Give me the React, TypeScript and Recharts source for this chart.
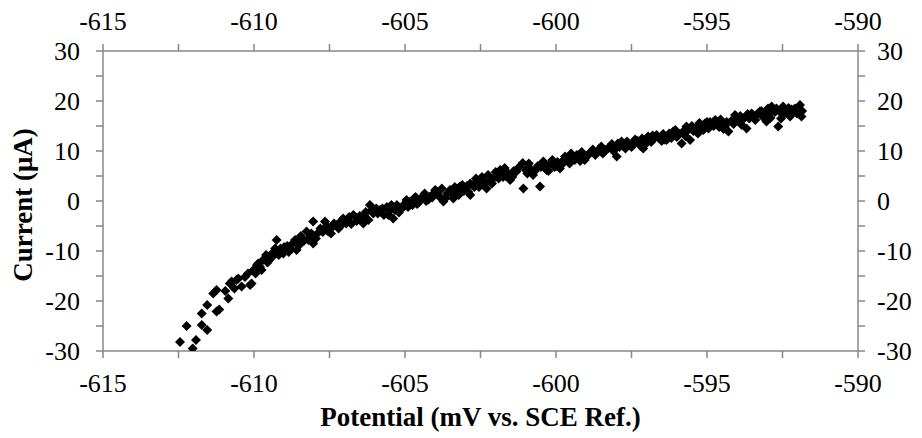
import { ScatterChart, Scatter, XAxis, YAxis } from 'recharts';

const potential = [
  -612.45, -612.23, -612.03, -611.92, -611.73, -611.55, -611.73, -611.55, -611.24, -611.15,
  -611.35, -611.24, -610.85, -610.8, -610.74, -610.58, -610.52, -610.41, -610.13, -610.08,
  -610.02, -609.9, -609.86, -609.75, -609.7, -609.64, -609.55, -609.45, -609.35, -609.25,
  -609.25, -609.12, -609.03, -608.9, -608.8, -608.64, -608.59, -608.45, -608.35, -608.26,
  -608.15, -608.04, -608.04, -607.9, -607.8, -607.65, -607.54, -607.4, -607.26, -607.15,
  -607.05, -606.95, -606.85, -606.71, -606.6, -606.5, -606.38, -606.3, -606.21, -606.16,
  -606.05, -605.95, -605.83, -605.7, -605.6, -605.5, -605.39, -605.27, -605.15, -605.0,
  -604.9, -604.83, -604.7, -604.6, -604.5, -604.4, -604.3, -604.17, -604.05, -603.95,
  -603.85, -603.73, -603.6, -603.51, -603.4, -603.3, -603.18, -603.05, -602.95, -602.84,
  -602.84, -602.7, -602.6, -602.52, -602.4, -602.3, -602.2, -602.07, -601.95, -601.85,
  -601.75, -601.65, -601.52, -601.4, -601.31, -601.1, -601.08, -600.95, -600.85, -600.76,
  -600.6, -600.53, -600.42, -600.31, -600.2, -600.05, -599.95, -599.87, -599.78, -599.7,
  -599.55, -599.45, -599.31, -599.2, -599.1, -598.99, -598.85, -598.7, -598.54, -598.45,
  -598.35, -598.21, -598.1, -597.99, -597.9, -597.83, -597.7, -597.6, -597.44, -597.3,
  -597.2, -597.11, -596.95, -596.85, -596.75, -596.67, -596.5, -596.34, -596.25, -596.12,
  -596.0, -595.84, -595.79, -595.68, -595.56, -595.45, -595.3, -595.2, -595.07, -594.95,
  -594.85, -594.73, -594.6, -594.5, -594.4, -594.29, -594.2, -594.07, -593.95, -593.85,
  -593.69, -593.6, -593.52, -593.4, -593.25, -593.15, -593.03, -592.95, -592.86, -592.75,
  -592.64, -592.55, -592.48, -592.35, -592.25, -592.15, -592.09, -591.92, -591.87, -591.85,
  -610.95, -610.65, -610.3, -610.2, -609.95, -609.8, -609.6, -609.5, -609.4, -609.3,
  -609.18, -609.0, -608.85, -608.72, -608.5, -608.4, -608.2, -608.1, -607.95, -607.72,
  -607.6, -607.45, -607.35, -607.2, -607.1, -606.9, -606.78, -606.65, -606.45, -606.35,
  -606.1, -605.9, -605.75, -605.55, -605.45, -605.33, -605.2, -605.05, -604.95, -604.75,
  -604.65, -604.55, -604.45, -604.35, -604.22, -604.1, -604.0, -603.9, -603.78, -603.65,
  -603.45, -603.35, -603.22, -603.1, -603.0, -602.9, -602.78, -602.65, -602.55, -602.45,
  -602.35, -602.25, -602.12, -602.0, -601.9, -601.8, -601.7, -601.58, -601.45, -601.22,
  -601.0, -600.9, -600.7, -600.5, -600.36, -600.25, -600.12, -599.99, -599.82, -599.62,
  -599.5, -599.38, -599.25, -599.15, -599.05, -598.92, -598.78, -598.62, -598.5, -598.4,
  -598.28, -598.15, -598.05, -597.95, -597.77, -597.65, -597.5, -597.38, -597.25, -597.15,
  -597.0, -596.9, -596.8, -596.6, -596.45, -596.4, -596.18, -596.05, -595.92, -595.72,
  -595.62, -595.5, -595.38, -595.25, -595.12, -595.0, -594.9, -594.78, -594.66, -594.55,
  -594.45, -594.35, -594.12, -594.0, -593.9, -593.78, -593.65, -593.45, -593.32, -593.2,
  -593.1, -592.98, -592.9, -592.8, -592.7, -592.6, -592.42, -592.3, -592.2, -592.02,
];

const current = [
  -28.2, -25.0, -29.5, -27.8, -24.8, -25.8, -22.5, -20.8, -22.1, -21.7,
  -18.5, -17.8, -19.5, -16.5, -16.1, -15.8, -15.5, -17.1, -16.8, -16.5,
  -13.8, -12.8, -12.5, -13.8, -11.8, -11.5, -12.3, -10.8, -10.2, -7.8,
  -10.1, -9.5, -10.5, -9.0, -9.6, -7.8, -9.8, -7.0, -8.0, -6.1,
  -7.2, -4.1, -8.5, -6.5, -5.5, -4.1, -6.1, -5.2, -4.8, -4.2,
  -3.5, -4.5, -3.2, -2.8, -4.0, -3.0, -4.5, -2.2, -3.8, -0.8,
  -2.5, -1.5, -1.8, -2.8, -1.2, -2.0, -3.5, -0.8, -1.5, -0.5,
  -1.2, -0.1, 0.5, -0.6, 0.2, 1.0, 0.0, 0.9, 1.5, 1.9,
  0.8, -0.1, 1.5, 2.2, 0.5, 2.0, 2.9, 2.0, 3.0, 3.5,
  1.2, 2.8, 3.8, 4.2, 3.2, 2.5, 4.0, 4.5, 5.2, 6.2,
  4.8, 5.0, 4.2, 6.0, 5.9, 7.6, 2.5, 5.5, 6.5, 5.2,
  7.0, 2.9, 7.9, 6.2, 7.5, 6.8, 7.8, 6.5, 8.0, 8.9,
  7.5, 8.5, 9.2, 8.0, 9.0, 8.9, 9.8, 9.2, 10.5, 9.5,
  10.2, 10.9, 10.0, 8.9, 10.8, 11.9, 10.5, 11.2, 11.5, 12.0,
  11.0, 10.5, 12.9, 11.8, 12.5, 13.2, 12.0, 12.2, 13.5, 13.9,
  12.8, 11.5, 13.9, 14.9, 12.2, 14.0, 13.5, 14.8, 15.5, 14.5,
  15.2, 16.2, 14.8, 15.5, 15.0, 13.9, 16.0, 17.2, 16.0, 15.2,
  14.5, 16.5, 17.5, 16.2, 17.9, 16.8, 15.9, 17.5, 18.9, 17.8,
  14.9, 16.5, 18.9, 18.0, 16.9, 17.8, 18.5, 19.2, 16.9, 18.0,
  -18.0, -17.5, -15.2, -14.5, -14.5, -13.2, -10.8, -11.8, -11.2, -9.5,
  -10.8, -9.2, -10.2, -8.5, -8.8, -7.5, -7.8, -6.5, -7.5, -6.2,
  -5.0, -6.5, -4.5, -5.5, -4.8, -3.8, -4.6, -3.2, -3.8, -2.8,
  -1.8, -2.5, -1.5, -2.8, -0.8, -1.8, -2.3, -1.2, 0.2, -0.8,
  0.8, -0.3, 0.6, 1.5, 0.3, 0.7, 2.2, 1.2, 2.5, 0.6,
  1.5, 2.8, 1.2, 3.2, 2.5, 1.8, 3.2, 4.5, 2.8, 4.8,
  3.8, 5.2, 3.5, 5.8, 4.5, 5.6, 6.6, 5.5, 4.8, 6.8,
  6.2, 7.5, 6.0, 6.8, 7.4, 6.0, 8.2, 7.0, 7.2, 8.3,
  9.5, 8.2, 8.6, 9.8, 8.2, 9.3, 10.3, 9.8, 10.9, 10.0,
  10.5, 11.4, 10.5, 11.5, 11.0, 11.9, 10.8, 12.3, 11.6, 12.5,
  11.6, 12.6, 13.1, 12.7, 13.4, 12.3, 12.6, 14.2, 13.4, 13.0,
  14.2, 15.0, 14.5, 15.6, 14.2, 15.8, 15.8, 15.0, 15.8, 16.3,
  14.4, 15.8, 15.4, 16.5, 17.0, 16.5, 17.4, 17.0, 17.5, 18.0,
  17.3, 18.5, 16.6, 18.4, 18.5, 17.9, 17.6, 18.6, 18.3, 17.5,
];

const xTicks = [-615, -612.5, -610, -607.5, -605, -602.5, -600, -597.5, -595, -592.5, -590];
const yTicks = [-30, -25, -20, -15, -10, -5, 0, 5, 10, 15, 20, 25, 30];

const points = potential.map((x, i) => ({ x, y: current[i] }));

const FONT = '"Liberation Serif", "Times New Roman", serif';
const AXIS = '#878787';
const axisLine = { stroke: AXIS, strokeWidth: 1.5 };

const xFmt = (v: number) => (v % 5 === 0 ? String(v) : '');
const yFmt = (v: number) => (v % 10 === 0 ? String(v) : '');

const makeTick = (fmt: (v: number) => string, dy: string) => (props: any) => {
  const { x, y, payload, textAnchor } = props;
  const label = fmt(payload.value);
  if (!label) return <g />;
  return (
    <text x={x} y={y} dy={dy} textAnchor={textAnchor} fontFamily={FONT} fontSize={26} fill="#000">
      {label}
    </text>
  );
};

const Diamond = (props: any) => {
  const { cx, cy } = props;
  if (cx == null || cy == null) return null;
  const r = 5;
  return (
    <polygon
      points={`${cx},${cy - r} ${cx + r},${cy} ${cx},${cy + r} ${cx - r},${cy}`}
      fill="#000"
    />
  );
};

const XTitle = (props: any) => {
  const vb = props.viewBox || { x: 103, y: 351, width: 755, height: 40 };
  return (
    <text
      x={vb.x + vb.width / 2}
      y={vb.y + 75}
      textAnchor="middle"
      fontFamily={FONT}
      fontSize={27}
      fontWeight="bold"
      fill="#000"
    >
      Potential (mV vs. SCE Ref.)
    </text>
  );
};

const YTitle = (props: any) => {
  const vb = props.viewBox || { x: 43, y: 51, width: 60, height: 300 };
  const x = vb.x - 11;
  const y = vb.y + vb.height / 2 + 4;
  return (
    <text
      x={x}
      y={y}
      transform={`rotate(-90, ${x}, ${y})`}
      textAnchor="middle"
      fontFamily={FONT}
      fontSize={27}
      fontWeight="bold"
      fill="#000"
    >
      Current (μA)
    </text>
  );
};

export default function App() {
  return (
    <div style={{ position: 'absolute', left: 0, top: 0, width: 922, height: 438, background: '#fff' }}>
      <ScatterChart width={922} height={438} margin={{ top: 21, right: 14, bottom: 47, left: 43 }}>
        <XAxis
          xAxisId="b"
          type="number"
          dataKey="x"
          orientation="bottom"
          domain={[-615, -590]}
          ticks={xTicks}
          interval={0}
          allowDataOverflow
          height={40}
          axisLine={axisLine}
          tickLine={axisLine}
          tickSize={7}
          tickMargin={16}
          tick={makeTick(xFmt, '0.71em')}
          label={{ content: XTitle }}
        />
        <XAxis
          xAxisId="t"
          type="number"
          dataKey="x"
          orientation="top"
          domain={[-615, -590]}
          ticks={xTicks}
          interval={0}
          allowDataOverflow
          height={30}
          axisLine={axisLine}
          tickLine={axisLine}
          tickSize={7}
          tickMargin={14}
          tick={makeTick(xFmt, '0')}
        />
        <YAxis
          yAxisId="l"
          type="number"
          dataKey="y"
          orientation="left"
          domain={[-30, 30]}
          ticks={yTicks}
          interval={0}
          allowDataOverflow
          width={60}
          axisLine={axisLine}
          tickLine={axisLine}
          tickSize={7}
          tickMargin={16}
          tick={makeTick(yFmt, '0.355em')}
          label={{ content: YTitle }}
        />
        <YAxis
          yAxisId="r"
          type="number"
          dataKey="y"
          orientation="right"
          domain={[-30, 30]}
          ticks={yTicks}
          interval={0}
          allowDataOverflow
          width={50}
          axisLine={axisLine}
          tickLine={axisLine}
          tickSize={7}
          tickMargin={12}
          tick={makeTick(yFmt, '0.355em')}
        />
        <Scatter
          data={points}
          xAxisId="b"
          yAxisId="l"
          shape={Diamond}
          isAnimationActive={false}
        />
        <Scatter data={[]} xAxisId="t" yAxisId="r" isAnimationActive={false} />
      </ScatterChart>
    </div>
  );
}
